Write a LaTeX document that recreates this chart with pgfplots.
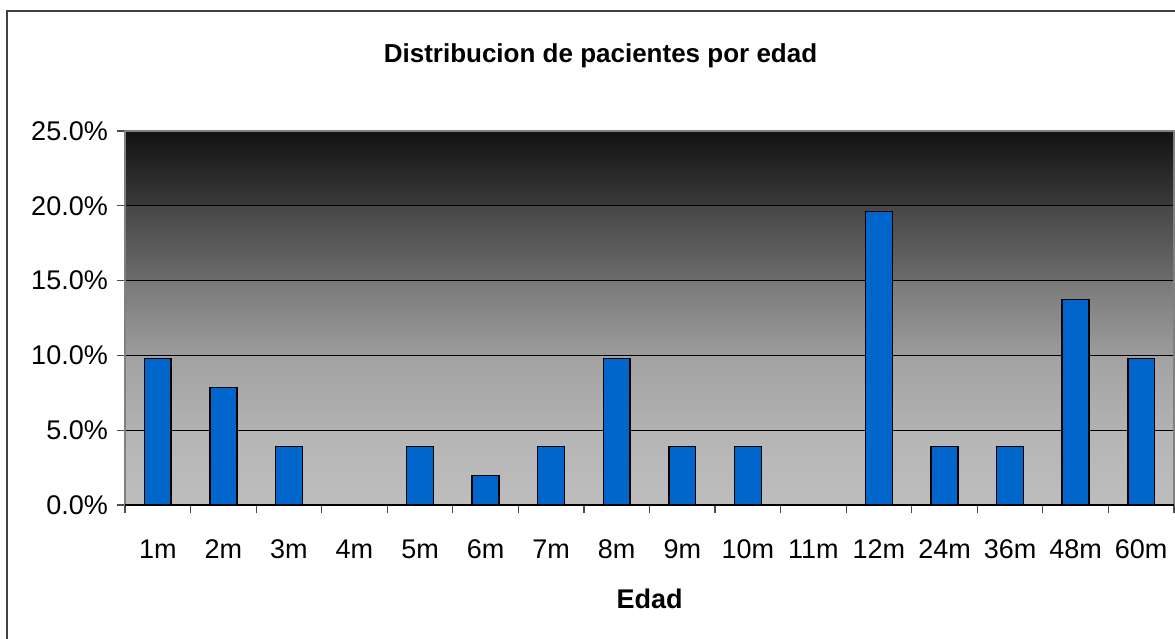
\documentclass[border=0pt]{standalone}
\usepackage{pgfplots}
\pgfplotsset{compat=1.18}
\usepackage{fontspec}
\setmainfont{Liberation Sans}
\definecolor{barblue}{HTML}{0066CC}
\definecolor{framegray}{HTML}{404040}
\begin{document}
\begin{tikzpicture}
\useasboundingbox (0pt,0pt) rectangle (1175pt,638pt);
\draw[line width=2pt, framegray] (7pt,-10pt) -- (7pt,627pt) -- (1190pt,627pt);
\node[font=\bfseries\fontsize{26}{30}\selectfont, anchor=base, inner sep=0pt] at (600.5pt,575pt) {Distribucion de pacientes por edad};
% plot-area background (banded gradient), plot area 125..1174 x 133..507
\fill[bottom color={rgb,255:red,189;green,189;blue,189}, top color={rgb,255:red,181;green,181;blue,181}] (125pt,133pt) rectangle (1174pt,207.8pt);
\fill[bottom color={rgb,255:red,178;green,178;blue,178}, top color={rgb,255:red,162;green,162;blue,162}] (125pt,207.8pt) rectangle (1174pt,282.6pt);
\fill[bottom color={rgb,255:red,156;green,156;blue,156}, top color={rgb,255:red,121;green,121;blue,121}] (125pt,282.6pt) rectangle (1174pt,357.4pt);
\fill[bottom color={rgb,255:red,108;green,108;blue,108}, top color={rgb,255:red,70;green,70;blue,70}] (125pt,357.4pt) rectangle (1174pt,432.2pt);
\fill[bottom color={rgb,255:red,58;green,58;blue,58}, top color={rgb,255:red,18;green,18;blue,18}] (125pt,432.2pt) rectangle (1174pt,507pt);
\begin{axis}[
  at={(125pt,133pt)}, anchor=south west,
  width=1049pt, height=374pt, scale only axis,
  xmin=-0.5, xmax=15.5, ymin=0, ymax=25,
  ybar, bar width=0.41,
  ytick={0,5,...,25},
  yticklabel={\pgfmathprintnumber[fixed,fixed zerofill,precision=1]{\tick}\%},
  /pgf/number format/assume math mode=true,
  ymajorgrids, grid style={black, line width=1pt},
  xtick={0,...,15},
  xticklabels={1m,2m,3m,4m,5m,6m,7m,8m,9m,10m,11m,12m,24m,36m,48m,60m},
  minor xtick={-0.5,0.5,...,15.5},
  xmajorgrids=false, xminorgrids=false,
  major tick length=8pt, minor tick length=8pt, tick align=outside,
  tick style={draw=black!70, line width=1.2pt},
  major x tick style={draw=none},
  tick pos=left,
  axis line style={draw=black!50, line width=1.5pt},
  ticklabel style={font=\fontsize{27}{31}\selectfont},
  yticklabel style={anchor=east, inner sep=0pt, xshift=-9pt},
  xticklabel style={anchor=base, inner sep=0pt, yshift=-45pt},
  xlabel={Edad},
  xlabel style={font=\bfseries\fontsize{27}{31}\selectfont, at={(axis description cs:0.5,0)}, anchor=base, yshift=-103pt, inner sep=0pt},
]
\addplot[fill=barblue, draw=black, line width=1.5pt, bar shift=0pt] coordinates {
(0,9.80) (1,7.84) (2,3.92) (3,0) (4,3.92) (5,1.96) (6,3.92) (7,9.80)
(8,3.92) (9,3.92) (10,0) (11,19.61) (12,3.92) (13,3.92) (14,13.73) (15,9.80)
};
\draw[black, line width=1.5pt] (axis cs:-0.5,0) -- (axis cs:15.5,0);
\end{axis}
\end{tikzpicture}
\end{document}
